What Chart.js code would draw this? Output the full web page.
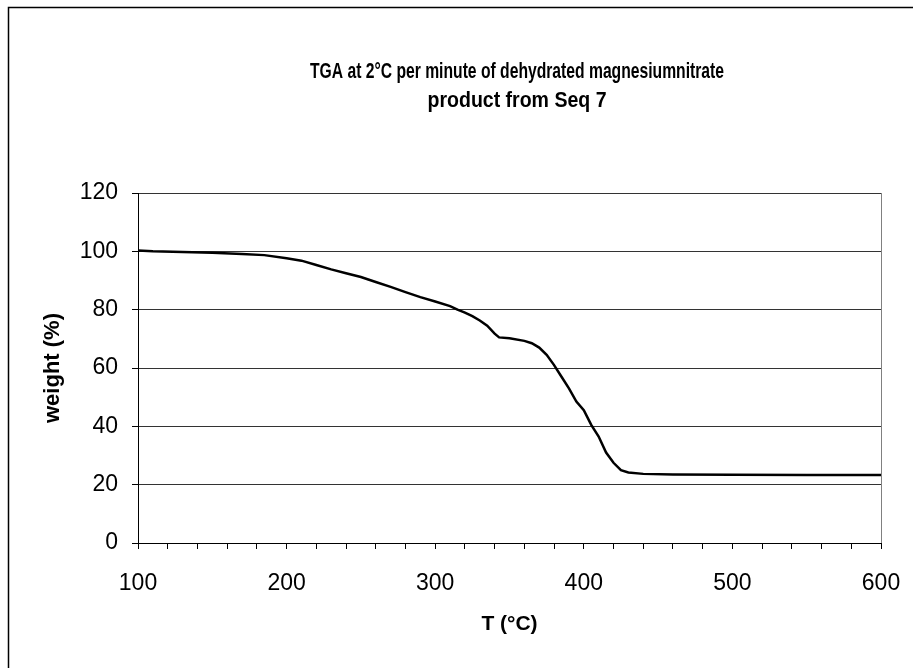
<!DOCTYPE html>
<html>
<head>
<meta charset="utf-8">
<script src="https://cdn.jsdelivr.net/npm/chart.js@4"></script>
<style>
  html, body { margin: 0; padding: 0; background: #fff; }
  #wrap { width: 913px; height: 668px; }
</style>
</head>
<body>
<div id="wrap"><canvas id="tga"></canvas></div>
<script>
// TGA curve (temperature in °C, weight in %)
const temps = [100, 110, 130, 150, 170, 185, 200, 210, 220, 230, 240, 250, 260, 270, 280, 290,
  300, 310, 315, 320, 325, 330, 335, 340, 343, 350, 360, 365, 370, 375, 380, 385, 390, 395,
  400, 405, 410, 415, 420, 425, 430, 440, 460, 500, 550, 600];
const weights = [100.3, 100.0, 99.8, 99.5, 99.1, 98.7, 97.6, 96.8, 95.3, 93.8, 92.5, 91.2, 89.5, 87.8, 86.0, 84.3,
  82.8, 81.2, 80.0, 79.0, 77.8, 76.3, 74.5, 71.8, 70.5, 70.2, 69.3, 68.5, 67.0, 64.5, 61.0, 57.0, 53.0, 48.5,
  45.5, 40.5, 36.5, 31.0, 27.5, 25.0, 24.2, 23.7, 23.5, 23.4, 23.3, 23.3];

const titleLines = ["TGA at 2°C per minute of dehydrated magnesiumnitrate", "product from Seq 7"];
const xTitle = "T (°C)";
const yTitle = "weight (%)";

const FONT = "'Liberation Sans', Arial, sans-serif";

// frame, right border of plot and the two-line title
const decor = {
  id: "decor",
  beforeDraw(chart) {
    const ctx = chart.ctx;
    ctx.save();
    ctx.fillStyle = "#fff";
    ctx.fillRect(0, 0, chart.width, chart.height);
    ctx.strokeStyle = "#000";
    ctx.lineWidth = 1.5;
    ctx.strokeRect(8.5, 7.5, chart.width + 10, chart.height + 10);
    ctx.restore();
  },
  afterDraw(chart) {
    const ctx = chart.ctx;
    const area = chart.chartArea;
    ctx.save();
    ctx.strokeStyle = "#808080";
    ctx.lineWidth = 1;
    ctx.beginPath();
    ctx.moveTo(Math.round(area.right) + 0.5, area.top);
    ctx.lineTo(Math.round(area.right) + 0.5, area.bottom);
    ctx.stroke();

    // the original title is set in a narrow bold face
    ctx.fillStyle = "#000";
    ctx.textAlign = "center";
    ctx.textBaseline = "middle";
    ctx.font = "bold 22px " + FONT;
    ctx.fillText(titleLines[0], 517, 72, 414);
    ctx.fillText(titleLines[1], 517, 101, 179);
    ctx.restore();
  }
};

new Chart(document.getElementById("tga"), {
  type: "line",
  data: {
    datasets: [{
      label: "weight",
      data: temps.map((t, i) => ({ x: t, y: weights[i] })),
      borderColor: "#000",
      borderWidth: 2.5,
      pointRadius: 0,
      tension: 0,
      fill: false
    }]
  },
  options: {
    responsive: true,
    maintainAspectRatio: false,
    animation: false,
    layout: { padding: { left: 8, right: 32, top: 193, bottom: 15 } },
    plugins: {
      legend: { display: false },
      title: { display: false },
      tooltip: { enabled: false }
    },
    scales: {
      x: {
        type: "linear",
        min: 100,
        max: 600,
        afterFit(scale) {
          scale.height = 110;
          scale.paddingLeft = 0;
          scale.paddingRight = 0;
        },
        border: { color: "#000", width: 1 },
        grid: {
          drawOnChartArea: false,
          drawTicks: true,
          tickLength: 6,
          tickColor: "#000"
        },
        ticks: {
          stepSize: 20,
          autoSkip: false,
          maxRotation: 0,
          padding: 21,
          color: "#000",
          font: { family: FONT, size: 23 },
          callback: v => (v % 100 === 0 ? v : "")
        },
        title: {
          display: true,
          text: xTitle,
          color: "#000",
          font: { family: FONT, size: 21, weight: "bold" },
          padding: { top: 0, bottom: 16 }
        }
      },
      y: {
        min: 0,
        max: 120,
        afterFit(scale) { scale.width = 130; },
        border: { color: "#000", width: 1 },
        grid: {
          color: "#333",
          drawTicks: true,
          tickLength: 6,
          tickColor: "#000"
        },
        ticks: {
          stepSize: 20,
          padding: 14,
          color: "#000",
          font: { family: FONT, size: 23 }
        },
        title: {
          display: true,
          text: yTitle,
          color: "#000",
          font: { family: FONT, size: 22, weight: "bold" },
          padding: { top: 32, bottom: 0 }
        }
      }
    }
  },
  plugins: [decor]
});
</script>
</body>
</html>
